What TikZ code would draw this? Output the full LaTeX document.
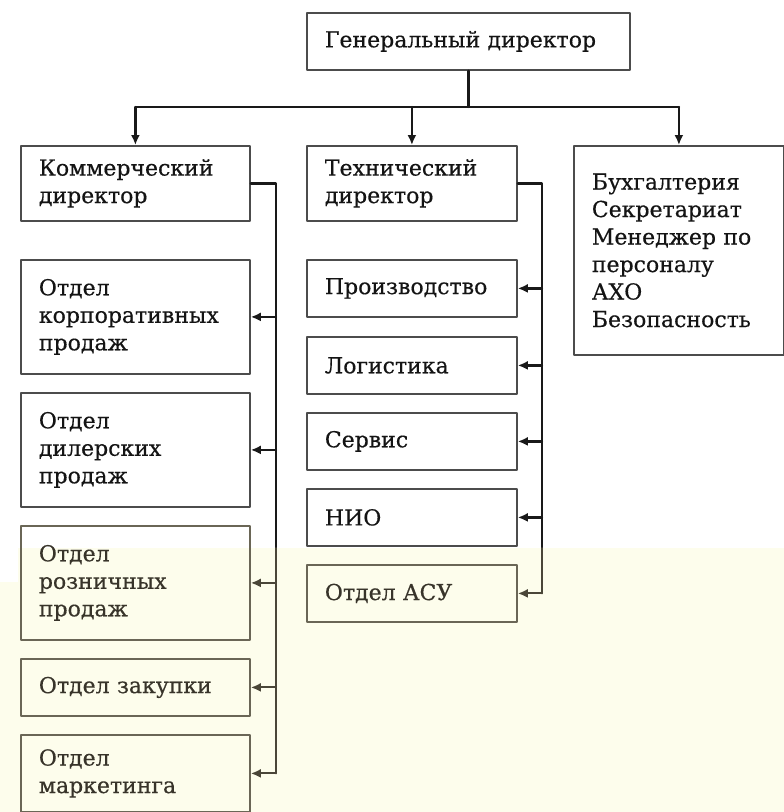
\documentclass[tikz,border=0pt]{standalone}
\usepackage{fontspec}
\setmainfont{DejaVu Serif}
\newfontfamily\boxfont[FakeBold=0.4]{DejaVu Serif}
\usetikzlibrary{arrows.meta}

\definecolor{cream}{HTML}{FDFDEC}
\definecolor{pale}{HTML}{6A6656}
\definecolor{paleline}{HTML}{4A4638}
\definecolor{paletext}{HTML}{38342A}

\begin{document}
\begin{tikzpicture}[
  x=1pt,
  y=1pt,
  line cap=round,
  line join=round,
  box/.style={draw=black!70, line width=1.8pt, anchor=north west,
    align=left, inner xsep=18pt, inner ysep=0pt,
    font=\boxfont\fontsize{22}{27.5}\selectfont, text=black!92},
  pbox/.style={box, draw=pale, text=paletext},
  lcol/.style={minimum width=229pt, text width=193pt},
  mcol/.style={minimum width=210pt, text width=174pt, minimum height=57pt},
  link/.style={line width=2.2pt, draw=black!90},
  plink/.style={line width=2pt, draw=paleline},
  arr/.style={link, -{Latex[length=10pt,width=9pt]}},
  parr/.style={plink, -{Latex[length=10pt,width=9pt]}}
]
  \def\xl{276}
  \def\xm{542}

  % Фон
  \useasboundingbox (0,0) rectangle (784,-812);
  \fill[white] (0,0) rectangle (784,-812);
  \fill[cream]
    (18,-548) -- (784,-548) -- (784,-812)
    -- (0,-812) -- (0,-582) -- (18,-582) -- cycle;

  % Верхний уровень
  \node[box, minimum width=323pt, text width=287pt, minimum height=57pt]
    (gen) at (306,-12) {Генеральный директор};

  \node[box, lcol, minimum height=75pt]
    (komm) at (20,-145) {Коммерческий\\директор};
  \node[box, mcol, minimum height=75pt]
    (tech) at (306,-145) {Технический\\директор};
  \node[box, minimum width=210pt, text width=174pt, minimum height=209pt]
    (staff) at (573,-145)
    {Бухгалтерия\\Секретариат\\Менеджер по\\персоналу\\АХО\\Безопасность\\[20pt]};

  % Коммерческие отделы
  \node[box, lcol, minimum height=114pt]
    (corp) at (20,-259) {Отдел\\корпоративных\\продаж};
  \node[box, lcol, minimum height=114pt]
    (dealer) at (20,-392) {Отдел\\дилерских\\продаж};
  \node[pbox, lcol, minimum height=114pt]
    (retail) at (20,-525) {Отдел\\розничных\\продаж};
  \node[pbox, lcol, minimum height=57pt]
    (buy) at (20,-658) {Отдел закупки};
  \node[pbox, lcol, minimum height=77pt]
    (mark) at (20,-734) {Отдел\\маркетинга};

  % Технические отделы
  \node[box, mcol] (prod) at (306,-259) {Производство};
  \node[box, mcol] (logist) at (306,-336) {Логистика};
  \node[box, mcol] (serv) at (306,-412) {Сервис};
  \node[box, mcol] (nio) at (306,-488) {НИО};
  \node[pbox, mcol] (asu) at (306,-564) {Отдел АСУ};

  % Связи от генерального директора
  \coordinate (split) at (gen.south |- 0,-107);
  \draw[link] (gen.south) -- (split);
  \draw[link] (komm.north |- split) -- (staff.north |- split);
  \foreach \n in {komm,tech,staff}
    \draw[arr] (\n.north |- split) -- (\n.north);

  % Шина коммерческого директора
  \coordinate (lbus) at (\xl,0);
  \draw[link] (komm.east) -- (komm.east -| lbus) -- (0,-548 -| lbus);
  \draw[plink] (0,-548 -| lbus) -- (mark.east -| lbus);
  \foreach \n in {corp,dealer}
    \draw[arr] (\n.east -| lbus) -- (\n.east);
  \foreach \n in {retail,buy,mark}
    \draw[parr] (\n.east -| lbus) -- (\n.east);

  % Шина технического директора
  \coordinate (mbus) at (\xm,0);
  \draw[link] (tech.east) -- (tech.east -| mbus) -- (0,-548 -| mbus);
  \draw[plink] (0,-548 -| mbus) -- (asu.east -| mbus);
  \foreach \n in {prod,logist,serv,nio}
    \draw[arr] (\n.east -| mbus) -- (\n.east);
  \draw[parr] (asu.east -| mbus) -- (asu.east);
\end{tikzpicture}
\end{document}
